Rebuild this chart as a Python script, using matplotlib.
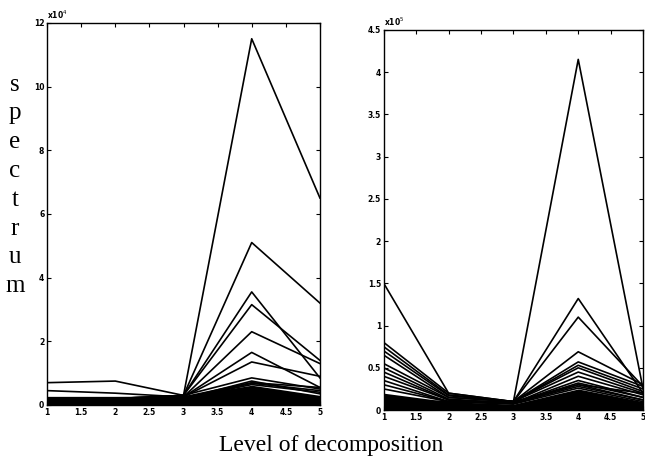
import numpy as np
import matplotlib.pyplot as plt

levels = [1, 2, 3, 4, 5]

# left panel, units of 1e4
left_lines = [
    [0.20, 0.20, 0.30, 11.5, 6.50],
    [0.15, 0.20, 0.30, 5.10, 3.20],
    [0.20, 0.20, 0.30, 3.55, 0.85],
    [0.10, 0.15, 0.30, 3.15, 1.40],
    [0.10, 0.10, 0.25, 2.30, 1.30],
    [0.10, 0.10, 0.25, 1.65, 0.55],
    [0.10, 0.10, 0.25, 1.35, 0.90],
    [0.70, 0.75, 0.30, 0.85, 0.50],
    [0.45, 0.37, 0.25, 0.70, 0.55],
    [0.20, 0.20, 0.20, 0.68, 0.45],
    [0.15, 0.15, 0.20, 0.64, 0.40],
    [0.15, 0.15, 0.20, 0.75, 0.35],
]
left_band = [0.27, 0.27, 0.28, 0.62, 0.30]

# right panel, units of 1e5
right_lines = [
    [0.05, 0.10, 0.10, 4.15, 0.25],
    [1.50, 0.20, 0.10, 0.30, 0.20],
    [0.10, 0.10, 0.10, 1.32, 0.20],
    [0.10, 0.10, 0.10, 1.10, 0.28],
    [0.80, 0.20, 0.10, 0.69, 0.30],
    [0.75, 0.18, 0.10, 0.57, 0.28],
    [0.70, 0.17, 0.10, 0.53, 0.25],
    [0.65, 0.15, 0.10, 0.50, 0.22],
    [0.55, 0.15, 0.10, 0.45, 0.20],
    [0.50, 0.13, 0.08, 0.40, 0.18],
    [0.45, 0.12, 0.08, 0.35, 0.15],
    [0.40, 0.12, 0.08, 0.32, 0.15],
    [0.35, 0.10, 0.08, 0.28, 0.12],
    [0.30, 0.10, 0.08, 0.30, 0.12],
    [0.25, 0.10, 0.07, 0.26, 0.10],
]
right_band = [0.20, 0.10, 0.07, 0.25, 0.10]

x_ticks = [1, 1.5, 2, 2.5, 3, 3.5, 4, 4.5, 5]
x_labels = ['1', '1.5', '2', '2.5', '3', '3.5', '4', '4.5', '5']
left_yticks = [0, 2, 4, 6, 8, 10, 12]
right_yticks = [0, 0.5, 1, 1.5, 2, 2.5, 3, 3.5, 4, 4.5]
right_ylabels = ['0', '0.5', '1', '1.5', '2', '2.5', '3', '3.5', '4', '4.5']

fig = plt.figure(figsize=(6.45, 4.66), dpi=100)
ax1 = fig.add_axes([0.073, 0.131, 0.423, 0.820])
ax2 = fig.add_axes([0.595, 0.120, 0.402, 0.816])


def style(ax, yticks, ylabels, ymax, mult):
    ax.set_xlim(1, 5)
    ax.set_ylim(0, ymax)
    ax.set_xticks(x_ticks)
    ax.set_xticklabels(x_labels)
    ax.set_yticks(yticks)
    ax.set_yticklabels(ylabels)
    ax.tick_params(direction='in', length=3, width=0.8, top=True, right=True,
                   labelsize=5.5, pad=2)
    for lab in ax.get_xticklabels() + ax.get_yticklabels():
        lab.set_fontweight('bold')
    for s in ax.spines.values():
        s.set_linewidth(1.0)
    ax.text(0.0, 1.005, mult, transform=ax.transAxes, fontsize=5.5,
            fontweight='bold', ha='left', va='bottom')


ax1.fill_between(levels, 0, left_band, color='black', lw=0)
for row in left_lines:
    ax1.plot(levels, row, color='black', lw=1.2)
style(ax1, left_yticks, [str(v) for v in left_yticks], 12, r'x10$^4$')

ax2.fill_between(levels, 0, right_band, color='black', lw=0)
for row in right_lines:
    ax2.plot(levels, row, color='black', lw=1.2)
style(ax2, right_yticks, right_ylabels, 4.5, r'x10$^5$')

fig.text(0.023, 0.602, 's\np\ne\nc\nt\nr\nu\nm', family='Liberation Serif',
         fontsize=18, ha='center', va='center', linespacing=1.4)
fig.text(0.513, 0.045, 'Level of decomposition', family='Liberation Serif',
         fontsize=17, ha='center', va='center')

fig.savefig('out.png', dpi=100)
